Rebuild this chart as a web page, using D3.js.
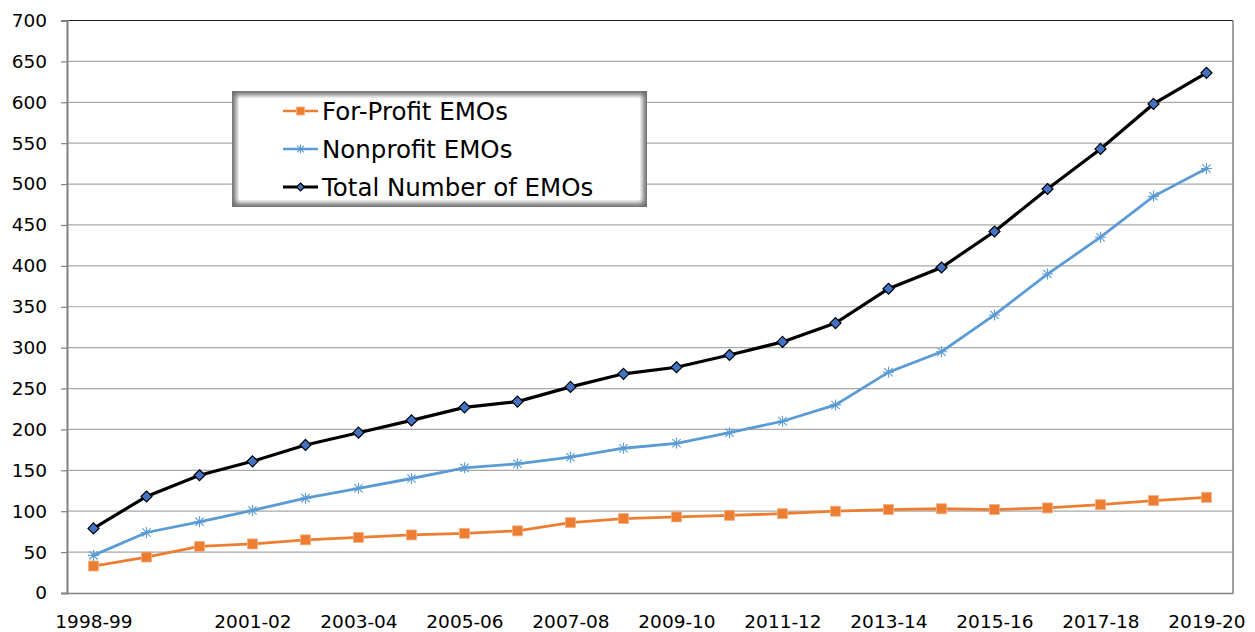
<!DOCTYPE html>
<html>
<head>
<meta charset="utf-8">
<script src="https://cdn.jsdelivr.net/npm/d3@7"></script>
<style>
  body { margin: 0; background: #fff; }
  svg text { font-family: "DejaVu Sans", sans-serif; fill: #000; }
</style>
</head>
<body>
<div id="chart"></div>
<script>
// school years on the x axis
var years = ["1998-99", "1999-00", "2000-01", "2001-02", "2002-03", "2003-04", "2004-05",
  "2005-06", "2006-07", "2007-08", "2008-09", "2009-10", "2010-11", "2011-12", "2012-13",
  "2013-14", "2014-15", "2015-16", "2016-17", "2017-18", "2018-19", "2019-20"];

var forProfit = [33, 44, 57, 60, 65, 68, 71, 73, 76, 86, 91, 93, 95, 97, 100, 102, 103, 102, 104, 108, 113, 117];
var nonProfit = [46, 74, 87, 101, 116, 128, 140, 153, 158, 166, 177, 183, 196, 210, 230, 270, 295, 340, 390, 435, 485, 519];
var totalEmos = [79, 118, 144, 161, 181, 196, 211, 227, 234, 252, 268, 276, 291, 307, 330, 372, 398, 442, 494, 543, 598, 636];

// labels excel actually printed
var xTickLabels = ["1998-99", "2001-02", "2003-04", "2005-06", "2007-08", "2009-10",
  "2011-12", "2013-14", "2015-16", "2017-18", "2019-20"];
var yTicks = [0, 50, 100, 150, 200, 250, 300, 350, 400, 450, 500, 550, 600, 650, 700];

var seriesNames = ["For-Profit EMOs", "Nonprofit EMOs", "Total Number of EMOs"];

var total_width = 1255, total_height = 632;
var margin = {top: 20.5, right: 22, bottom: 39, left: 67},
    width = total_width - margin.left - margin.right,
    height = total_height - margin.top - margin.bottom;

var svg = d3.select("#chart").append("svg")
    .attr("width", total_width)
    .attr("height", total_height);

var defs = svg.append("defs");
defs.append("filter").attr("id", "soft")
    .attr("x", "-10%").attr("y", "-10%").attr("width", "120%").attr("height", "120%")
  .append("feGaussianBlur").attr("stdDeviation", 2.5);

var g = svg.append("g")
    .attr("transform", "translate(" + margin.left + "," + margin.top + ")");

var x = d3.scalePoint()
    .domain(years)
    .range([0, width])
    .padding(0.5);

var y = d3.scaleLinear()
    .domain([0, 700])
    .range([height, 0]);

// gridlines
g.append("g")
    .selectAll("line")
    .data(yTicks.filter(d => d > 0 && d < 700))
    .enter()
    .append("line")
      .attr("x1", 0).attr("x2", width)
      .attr("y1", d => y(d)).attr("y2", d => y(d))
      .attr("stroke", "#a8a8a8")
      .attr("stroke-width", 1.2);

// plot frame
g.append("line").attr("x1", 0).attr("x2", width).attr("y1", 0).attr("y2", 0)
    .attr("stroke", "#222").attr("stroke-width", 1.2);
g.append("line").attr("x1", width).attr("x2", width).attr("y1", 0).attr("y2", height)
    .attr("stroke", "#808080").attr("stroke-width", 1.5);

// y axis
var yAxis = g.append("g")
    .call(d3.axisLeft(y).tickValues(yTicks).tickSize(6).tickPadding(14));
yAxis.select(".domain").attr("stroke", "#808080").attr("stroke-width", 2);
yAxis.selectAll(".tick line").attr("stroke", "#808080").attr("stroke-width", 1.2);
yAxis.selectAll("text").attr("font-size", 18.5).style("font-family", null);

// x axis
var xAxis = g.append("g")
    .attr("transform", "translate(0," + height + ")")
    .call(d3.axisBottom(x).tickValues(xTickLabels).tickSize(0).tickPadding(22));
xAxis.select(".domain").attr("stroke", "#808080").attr("stroke-width", 1.5);
xAxis.selectAll("text").attr("font-size", 18.5).style("font-family", null);

// lines
var line = d3.line()
    .x((d, i) => x(years[i]))
    .y(d => y(d));

g.append("path").datum(forProfit)
    .attr("d", line).attr("fill", "none")
    .attr("stroke", "#ED7D31").attr("stroke-width", 2.8);
g.append("path").datum(nonProfit)
    .attr("d", line).attr("fill", "none")
    .attr("stroke", "#5B9BD5").attr("stroke-width", 2.8);
g.append("path").datum(totalEmos)
    .attr("d", line).attr("fill", "none")
    .attr("stroke", "#000").attr("stroke-width", 3.2);

// markers
function squareMarks(sel, size) {
  sel.append("rect")
    .attr("x", -size / 2).attr("y", -size / 2)
    .attr("width", size).attr("height", size)
    .attr("fill", "#ED7D31")
    .attr("stroke", "#F4B183").attr("stroke-width", 0.8);
}
function starMarks(sel, r) {
  sel.append("path")
    .attr("d", "M" + (-r) + ",0L" + r + ",0M0," + (-r) + "L0," + r +
      "M" + (-r * 0.75) + "," + (-r * 0.75) + "L" + (r * 0.75) + "," + (r * 0.75) +
      "M" + (-r * 0.75) + "," + (r * 0.75) + "L" + (r * 0.75) + "," + (-r * 0.75))
    .attr("stroke", "#5B9BD5").attr("stroke-width", 1.1).attr("fill", "none");
}
function diamondMarks(sel, r) {
  sel.append("path")
    .attr("d", "M0," + (-r) + "L" + r + ",0L0," + r + "L" + (-r) + ",0Z")
    .attr("fill", "#4472C4").attr("stroke", "#000").attr("stroke-width", 1.2);
}

g.append("g").selectAll("g").data(forProfit).enter().append("g")
    .attr("transform", (d, i) => "translate(" + x(years[i]) + "," + y(d) + ")")
    .call(squareMarks, 10);
g.append("g").selectAll("g").data(nonProfit).enter().append("g")
    .attr("transform", (d, i) => "translate(" + x(years[i]) + "," + y(d) + ")")
    .call(starMarks, 5.5);
g.append("g").selectAll("g").data(totalEmos).enter().append("g")
    .attr("transform", (d, i) => "translate(" + x(years[i]) + "," + y(d) + ")")
    .call(diamondMarks, 5.5);

// legend
var legend = svg.append("g").attr("transform", "translate(232,91)");
legend.append("rect").attr("width", 415).attr("height", 116).attr("fill", "#6e6e6e");
legend.append("rect").attr("x", 4).attr("y", 4).attr("width", 407).attr("height", 108)
    .attr("fill", "#fff").attr("filter", "url(#soft)");
legend.append("rect").attr("x", 7).attr("y", 7).attr("width", 401).attr("height", 102)
    .attr("fill", "#fff");

var legendRows = [
  {name: seriesNames[0], color: "#ED7D31", width: 2.6, mark: g => squareMarks(g, 8)},
  {name: seriesNames[1], color: "#5B9BD5", width: 2.6, mark: g => starMarks(g, 4.5)},
  {name: seriesNames[2], color: "#000", width: 3, mark: g => diamondMarks(g, 4)}
];

var rows = legend.selectAll(".row").data(legendRows).enter().append("g")
    .attr("class", "row")
    .attr("transform", (d, i) => "translate(0," + (20 + i * 38) + ")");
rows.append("line")
    .attr("x1", 51).attr("x2", 86).attr("y1", 0).attr("y2", 0)
    .attr("stroke", d => d.color).attr("stroke-width", d => d.width);
rows.append("g").attr("transform", "translate(68.5,0)")
    .each(function (d) { d.mark(d3.select(this)); });
rows.append("text")
    .attr("x", 90).attr("y", 0).attr("dy", "0.36em")
    .attr("font-size", 24.5)
    .text(d => d.name);
</script>
</body>
</html>
